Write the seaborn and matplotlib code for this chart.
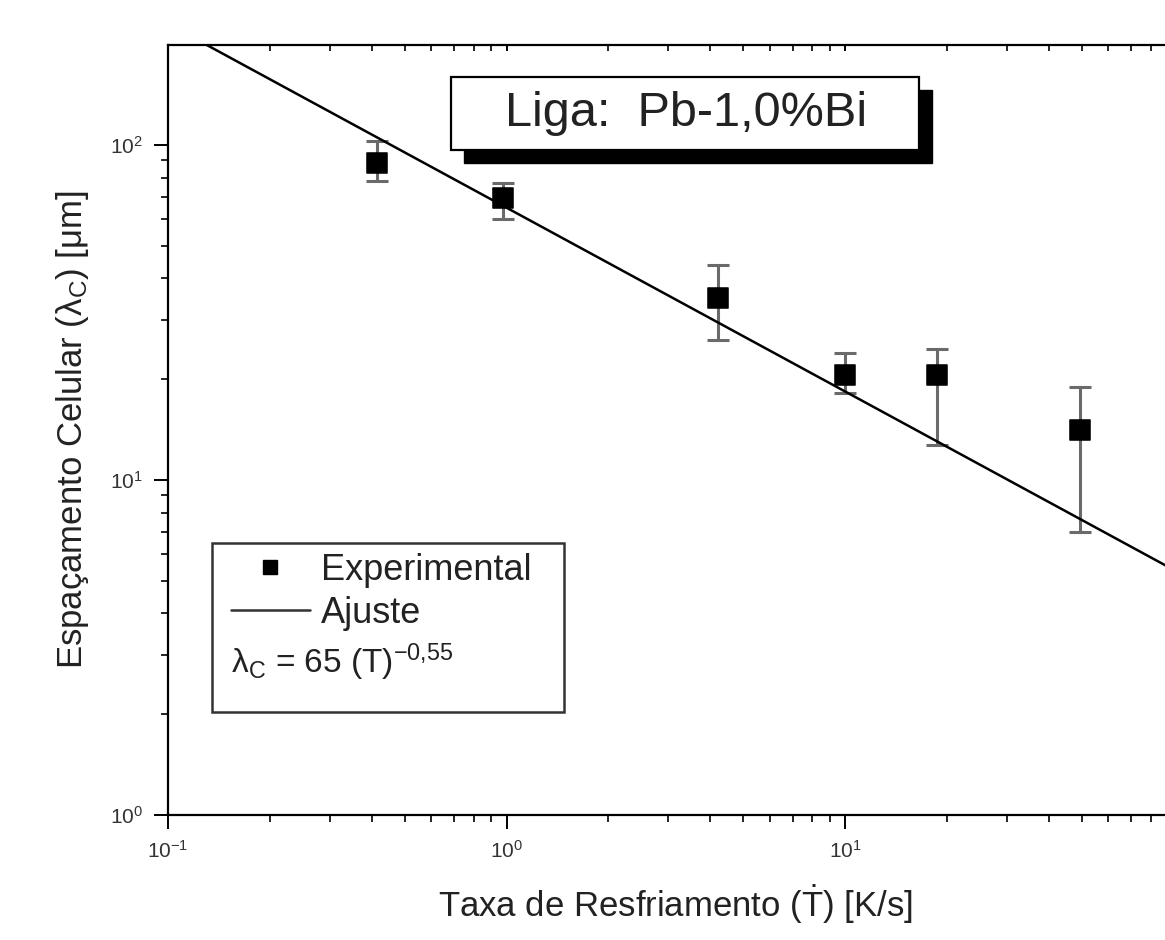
import numpy as np
import pandas as pd
import seaborn as sns
import matplotlib.pyplot as plt
from matplotlib.lines import Line2D
from matplotlib.patches import Rectangle
from matplotlib.ticker import LogLocator, NullFormatter

# Data
taxa = [0.414, 0.977, 4.21, 10.0, 18.7, 49.5]        # cooling rate [K/s]
espac = [88.3, 69.5, 34.9, 20.6, 20.6, 14.1]         # cell spacing [um]
err_sup = [102.8, 77.0, 43.8, 23.9, 24.6, 18.9]      # upper end of error bar
err_inf = [78.1, 60.1, 26.2, 18.2, 12.7, 7.0]        # lower end of error bar

# fitted line endpoints (lambda_c = 65 T^-0.55)
fit_x = [0.1, 100]
fit_y = [230, 5.2]

df = pd.DataFrame({'taxa': taxa, 'espac': espac})
df_fit = pd.DataFrame({'taxa': fit_x, 'espac': fit_y})

sns.set_theme(style='ticks')
plt.rcParams['font.family'] = ['Liberation Sans', 'DejaVu Sans']
plt.rcParams['mathtext.fontset'] = 'custom'
plt.rcParams['mathtext.rm'] = 'Liberation Sans'
plt.rcParams['mathtext.it'] = 'Liberation Sans:italic'
plt.rcParams['mathtext.bf'] = 'Liberation Sans:bold'

fig = plt.figure(figsize=(11.65, 9.4), dpi=100)
ax = fig.add_axes([168/1165, 125/940, 1015.5/1165, 770/940])

# error bars
yerr = [np.array(espac) - np.array(err_inf), np.array(err_sup) - np.array(espac)]
ax.errorbar(taxa, espac, yerr=yerr, fmt='none', ecolor='#6a6a6a', elinewidth=2.2,
            capsize=8, capthick=2.2, zorder=2)

# fit line
sns.lineplot(data=df_fit, x='taxa', y='espac', color='black', linewidth=1.8, ax=ax, zorder=3)

# experimental points
sns.scatterplot(data=df, x='taxa', y='espac', marker='s', s=200, color='black',
                edgecolor='black', ax=ax, zorder=4)

ax.set_xscale('log')
ax.set_yscale('log')
ax.set_xlim(0.1, 100)
ax.set_ylim(1, 199)

ax.xaxis.set_major_locator(LogLocator(base=10))
ax.yaxis.set_major_locator(LogLocator(base=10))
ax.xaxis.set_minor_locator(LogLocator(base=10, subs=np.arange(2, 10)))
ax.yaxis.set_minor_locator(LogLocator(base=10, subs=np.arange(2, 10)))
ax.xaxis.set_minor_formatter(NullFormatter())
ax.yaxis.set_minor_formatter(NullFormatter())

for s in ax.spines.values():
    s.set_linewidth(1.6)
    s.set_color('black')

ax.tick_params(axis='both', which='major', direction='out', length=10, width=1.4,
               labelsize=15, labelcolor='#333333', color='black', pad=8)
ax.tick_params(axis='both', which='minor', direction='out', length=5, width=1.2, color='black')
# small mirrored ticks on the top axis
ax.xaxis.set_tick_params(which='both', top=True)
for t in ax.xaxis.get_major_ticks() + ax.xaxis.get_minor_ticks():
    t.tick2line.set_marker(3)
    t.tick2line.set_markersize(4)

ax.set_xlabel(r'Taxa de Resfriamento ($\mathrm{\dot{T}}$) [K/s]', fontsize=25,
              color='#222222', labelpad=16)
ax.set_ylabel(r'Espaçamento Celular ($\mathrm{\lambda_C}$) [μm]', fontsize=25,
              color='#222222', labelpad=14)

# alloy title box with shadow
ax.add_patch(Rectangle((0.291, 0.847), 0.461, 0.095, transform=ax.transAxes,
                       facecolor='black', edgecolor='black', zorder=5))
ax.add_patch(Rectangle((0.279, 0.864), 0.461, 0.095, transform=ax.transAxes,
                       facecolor='white', edgecolor='black', linewidth=1.6, zorder=6))
ax.text(0.510, 0.911, 'Liga:  Pb-1,0%Bi', transform=ax.transAxes, fontsize=35,
        ha='center', va='center', color='#222222', zorder=7)

# legend box
ax.add_patch(Rectangle((0.043, 0.134), 0.347, 0.219, transform=ax.transAxes,
                       facecolor='white', edgecolor='#333333', linewidth=1.8, zorder=5))
handles = [Line2D([], [], marker='s', linestyle='none', color='black', markersize=10),
           Line2D([], [], color='#333333', linewidth=1.8)]
leg = ax.legend(handles, ['Experimental', 'Ajuste'], loc='upper left',
                bbox_to_anchor=(0.058, 0.345), frameon=False, fontsize=26,
                handlelength=2.2, handletextpad=0.3, labelspacing=0.22,
                borderpad=0.1, borderaxespad=0)
leg.set_zorder(8)
for t in leg.get_texts():
    t.set_color('#222222')
ax.text(0.062, 0.198, r'$\mathrm{\lambda_C}$ = 65 (T)$^{\mathrm{-0{,}55}}$', transform=ax.transAxes,
        fontsize=24, ha='left', va='center', color='#222222', zorder=8)

fig.savefig('out.png', dpi=100)
